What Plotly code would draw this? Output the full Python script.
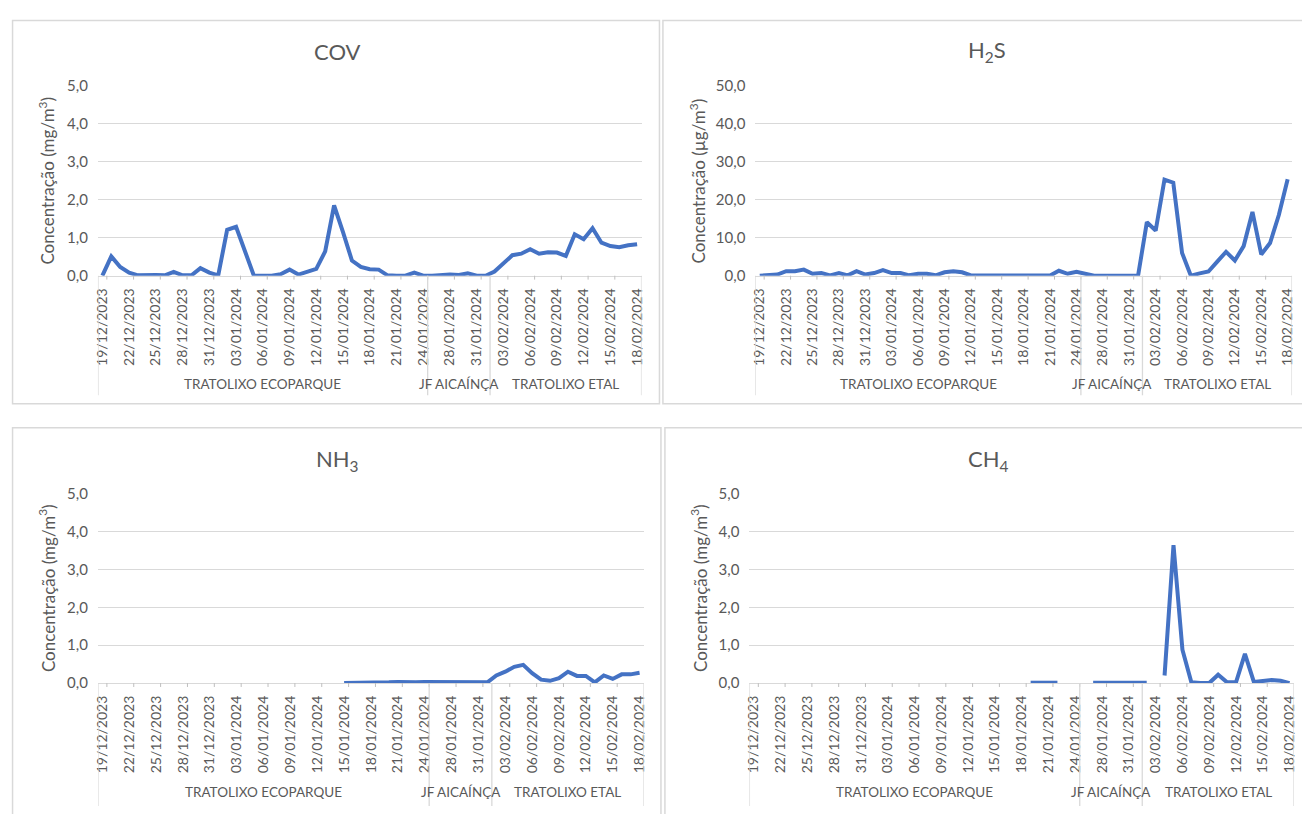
import plotly.graph_objects as go

# ---------------- data ----------------
DATES = [
    "19/12/2023", "20/12/2023", "21/12/2023", "22/12/2023", "23/12/2023", "24/12/2023",
    "25/12/2023", "26/12/2023", "27/12/2023", "28/12/2023", "29/12/2023", "30/12/2023",
    "31/12/2023", "01/01/2024", "02/01/2024", "03/01/2024", "04/01/2024", "05/01/2024",
    "06/01/2024", "07/01/2024", "08/01/2024", "09/01/2024", "10/01/2024", "11/01/2024",
    "12/01/2024", "13/01/2024", "14/01/2024", "15/01/2024", "16/01/2024", "17/01/2024",
    "18/01/2024", "19/01/2024", "20/01/2024", "21/01/2024", "22/01/2024", "23/01/2024",
    "24/01/2024", "25/01/2024", "26/01/2024", "28/01/2024", "29/01/2024", "30/01/2024",
    "31/01/2024", "01/02/2024", "02/02/2024", "03/02/2024", "04/02/2024", "05/02/2024",
    "06/02/2024", "07/02/2024", "08/02/2024", "09/02/2024", "10/02/2024", "11/02/2024",
    "12/02/2024", "13/02/2024", "14/02/2024", "15/02/2024", "16/02/2024", "17/02/2024",
    "18/02/2024",
]

GROUP_NAMES = ["TRATOLIXO ECOPARQUE", "JF AICAÍNÇA", "TRATOLIXO ETAL"]
GROUP_FIRST = ["19/12/2023", "25/01/2024", "02/02/2024"]
GROUP_LAST = ["24/01/2024", "01/02/2024", "18/02/2024"]

COV = [
    0.0, 0.51, 0.23, 0.08, 0.01, 0.02, 0.02, 0.01, 0.10, 0.01, 0.01, 0.20, 0.08,
    0.01, 1.21, 1.29, 0.68, 0.0, 0.0, 0.0, 0.04, 0.16, 0.03, 0.11, 0.18, 0.64,
    1.85, 1.15, 0.40, 0.23, 0.17, 0.16, 0.01, 0.0, 0.0, 0.08, 0.0, 0.0, 0.02,
    0.03, 0.02, 0.06, 0.0, 0.0, 0.11, 0.32, 0.54, 0.58, 0.70, 0.58, 0.62, 0.61,
    0.52, 1.09, 0.96, 1.25, 0.87, 0.78, 0.75, 0.80, 0.83,
]

H2S = [
    0.0, 0.1, 0.3, 1.2, 1.2, 1.6, 0.5, 0.7, 0.1, 0.7, 0.1, 1.2, 0.3, 0.7, 1.5,
    0.7, 0.7, 0.1, 0.5, 0.5, 0.1, 0.9, 1.2, 0.9, 0.05, 0.05, 0.05, 0.2, 0.05,
    0.05, 0.05, 0.05, 0.05, 0.05, 1.3, 0.5, 1.0, 0.5, 0.0, 0.0, 0.0, 0.0, 0.0,
    0.0, 14.1, 11.9, 25.3, 24.5, 6.0, 0.0, 0.6, 1.1, 3.7, 6.3, 4.0, 7.8, 16.8,
    5.6, 8.6, 16.0, 25.4,
]

NH3 = [None] * 27 + [
    0.0, 0.0, 0.01, 0.01, 0.01, 0.02, 0.03, 0.02, 0.02, 0.03, 0.03, 0.02, 0.01,
    0.01, 0.02, 0.02, 0.02, 0.20, 0.30, 0.43, 0.48, 0.26, 0.09, 0.06, 0.13, 0.30,
    0.19, 0.19, 0.02, 0.20, 0.11, 0.23, 0.23, 0.27,
]

CH4 = [None] * 31 + [0.01, 0.01, 0.01, 0.01] + [None] * 3 + [
    0.01, 0.01, 0.01, 0.01, 0.01, 0.01, 0.01,
] + [None] + [
    0.20, 3.64, 0.88, 0.02, 0.0, 0.0, 0.22, 0.02, 0.02, 0.77, 0.03, 0.05, 0.08,
    0.06, 0.0,
]

TITLES = ["COV", "H<sub>2</sub>S", "NH<sub>3</sub>", "CH<sub>4</sub>"]
Y_TITLES = [
    "Concentração (mg/m<sup>3</sup>)",
    "Concentração (µg/m<sup>3</sup>)",
    "Concentração (mg/m<sup>3</sup>)",
    "Concentração (mg/m<sup>3</sup>)",
]
SERIES = [COV, H2S, NH3, CH4]
Y_MAX = [5, 50, 5, 5]
Y_DTICK = [1, 10, 1, 1]
LABEL_STEP = 3

# ---------------- layout helpers ----------------
W, H = 1302, 814
FONT = "Lato"
GREY = "#595959"
GRID = "#D9D9D9"
TICK = "#BFBFBF"
LINE = "#4472C4"


def fx(p):
    return p / W


def fy(p):
    return 1 - p / H


# plot areas in pixels: (left, right, top, bottom)
PLOT_BOX = [
    (93.5, 640.5, 77.7, 271.7),
    (755.0, 1295.0, 77.7, 271.7),
    (93.5, 643.0, 494.5, 688.3),
    (749.0, 1297.0, 494.5, 688.3),
]
# chart area borders
CHART_BOX = [
    (7.6, 658.5, 10.7, 402.7),
    (662.0, 1320.0, 10.7, 402.7),
    (7.6, 660.0, 427.3, 840.0),
    (664.0, 1320.0, 427.3, 840.0),
]
TITLE_POS = [(335, 42), (988, 42), (335, 460), (990, 460)]
YTITLE_X = [42, 697, 42, 698]
GROUP_LABEL_Y = [382, 382, 800, 800]
DIVIDER_BOTTOM = [394, 394, 814, 814]

fig = go.Figure()
shapes = []
annotations = []
layout = {}

for k in range(4):
    sfx = "" if k == 0 else str(k + 1)
    xa, ya = "x" + sfx, "y" + sfx
    l, r, t, b = PLOT_BOX[k]

    fig.add_trace(go.Scatter(
        x=DATES, y=SERIES[k], mode="lines",
        line=dict(color=LINE, width=4),
        connectgaps=False, showlegend=False, cliponaxis=False,
        xaxis=xa, yaxis=ya,
    ))

    layout["xaxis" + sfx] = dict(
        domain=[fx(l), fx(r)], anchor=ya, type="category",
        categoryorder="array", categoryarray=DATES,
        range=[-0.5, len(DATES) - 0.5],
        tickmode="array", tickvals=DATES[::LABEL_STEP],
        ticktext=DATES[::LABEL_STEP],
        tickangle=-90, tickfont=dict(family=FONT, size=14, color=GREY),
        showgrid=False, zeroline=False, showline=True, linecolor=GRID,
        linewidth=1, ticks="", ticklabelstandoff=6, fixedrange=True,
    )
    layout["yaxis" + sfx] = dict(
        domain=[fy(b), fy(t)], anchor=xa, range=[0, Y_MAX[k]],
        dtick=Y_DTICK[k], tick0=0, tickformat=".1f",
        tickfont=dict(family=FONT, size=15, color=GREY),
        showgrid=True, gridcolor=GRID, gridwidth=1.3, zeroline=False,
        showline=False, ticks="", ticklabelstandoff=9, fixedrange=True,
    )

    # chart area border
    cl, cr, ct, cb = CHART_BOX[k]
    shapes.append(dict(type="rect", xref="paper", yref="paper",
                       x0=fx(cl), x1=fx(cr), y0=fy(cb), y1=fy(ct),
                       line=dict(color=GRID, width=1.5), layer="below"))

    # small tick marks between categories, one per label interval
    for j in range(0, len(DATES), LABEL_STEP):
        pos = j + 0.5
        if pos < len(DATES) - 0.5:
            shapes.append(dict(type="line", xref=xa, yref="paper",
                               x0=pos, x1=pos, y0=fy(b), y1=fy(b + 4),
                               line=dict(color=TICK, width=1)))

    # multi-level category dividers and group labels
    edges = [-0.5]
    for first, last in zip(GROUP_FIRST, GROUP_LAST):
        edges.append(DATES.index(last) + 0.5)
    for e in edges:
        shapes.append(dict(type="line", xref=xa, yref="paper",
                           x0=e, x1=e, y0=fy(b), y1=fy(DIVIDER_BOTTOM[k]),
                           line=dict(color=GRID, width=1.3)))
    for name, first, last in zip(GROUP_NAMES, GROUP_FIRST, GROUP_LAST):
        c = (DATES.index(first) + DATES.index(last)) / 2
        annotations.append(dict(
            x=c, y=fy(GROUP_LABEL_Y[k]), xref=xa, yref="paper",
            text=name, showarrow=False, xanchor="center", yanchor="middle",
            font=dict(family=FONT, size=13.5, color=GREY)))

    # chart title
    tx, ty = TITLE_POS[k]
    annotations.append(dict(
        x=fx(tx), y=fy(ty), xref="paper", yref="paper", text=TITLES[k],
        showarrow=False, xanchor="center", yanchor="middle",
        font=dict(family=FONT, size=22, color=GREY)))

    # y-axis title
    annotations.append(dict(
        x=fx(YTITLE_X[k]), y=(fy(t) + fy(b)) / 2, xref="paper", yref="paper",
        text=Y_TITLES[k], textangle=-90, showarrow=False,
        xanchor="center", yanchor="middle",
        font=dict(family=FONT, size=17, color=GREY)))

fig.update_layout(
    width=W, height=H, margin=dict(l=0, r=0, t=0, b=0),
    paper_bgcolor="white", plot_bgcolor="white",
    separators=", ", shapes=shapes, annotations=annotations,
    font=dict(family=FONT, color=GREY), showlegend=False,
    **layout,
)

fig.write_html(
    "out.html",
    config={"displayModeBar": False},
    post_script="document.body.style.margin='0';document.body.style.overflow='hidden';",
)
